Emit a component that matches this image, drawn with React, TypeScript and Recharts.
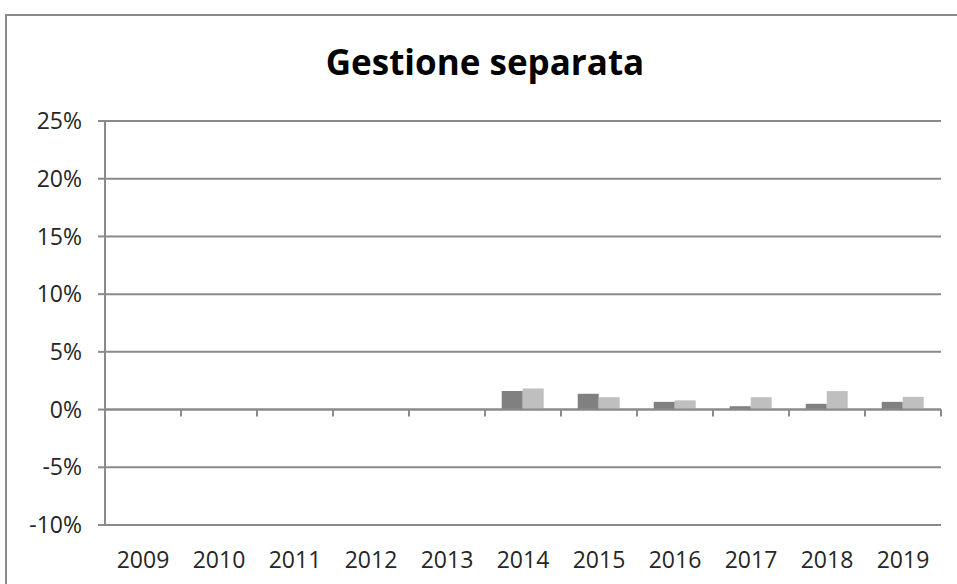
import { Bar, BarChart, CartesianGrid, ReferenceLine, XAxis, YAxis } from "recharts"

// Gestione separata: due serie per anno (grigio scuro / grigio chiaro), valori in %
const YEARS = ["2009", "2010", "2011", "2012", "2013", "2014", "2015", "2016", "2017", "2018", "2019"]
const SERIE_A = [0, 0, 0, 0, 0, 1.6, 1.37, 0.67, 0.29, 0.5, 0.67]
const SERIE_B = [0, 0, 0, 0, 0, 1.83, 1.07, 0.8, 1.07, 1.6, 1.1]
const Y_TICKS = [-10, -5, 0, 5, 10, 15, 20, 25]

const DARK = "#808080"
const LIGHT = "#bfbfbf"
const GRID = "#8a8a8a"
const FONT = "'Open Sans', sans-serif"

const data = YEARS.map((year, i) => ({ year, a: SERIE_A[i], b: SERIE_B[i] }))

// tacche sull'asse dello zero, ai confini tra le categorie
function ZeroTicks(props: { viewBox?: { x: number; y: number; width: number } }) {
  const vb = props.viewBox
  if (!vb) return null
  const step = vb.width / YEARS.length
  return (
    <g>
      {Array.from({ length: YEARS.length + 1 }, (_, i) => (
        <line
          key={i}
          x1={vb.x + i * step}
          x2={vb.x + i * step}
          y1={vb.y}
          y2={vb.y + 7}
          stroke={GRID}
          strokeWidth={2}
        />
      ))}
    </g>
  )
}

export default function App() {
  return (
    <div
      style={{
        position: "absolute",
        left: 0,
        top: 0,
        width: 957,
        height: 584,
        overflow: "hidden",
        background: "#fff",
        fontFamily: FONT,
      }}
    >
      <div
        style={{
          position: "absolute",
          left: 5,
          top: 14,
          width: 1000,
          height: 700,
          border: `2px solid ${GRID}`,
        }}
      />
      <div
        style={{
          position: "absolute",
          left: 0,
          width: 970,
          top: 40,
          textAlign: "center",
          fontSize: 35,
          fontWeight: 700,
          color: "#000",
          lineHeight: "44px",
        }}
      >
        Gestione separata
      </div>
      <BarChart
        width={957}
        height={584}
        data={data}
        margin={{ top: 121, right: 16, bottom: 0, left: 0 }}
        barCategoryGap="22%"
        barGap={0}
        style={{ position: "absolute", left: 0, top: 0 }}
      >
        <CartesianGrid vertical={false} stroke={GRID} strokeWidth={2} />
        <XAxis
          dataKey="year"
          height={59}
          tickLine={false}
          axisLine={false}
          tickMargin={21}
          interval={0}
          tick={{ fontSize: 23, fill: "#262626", fontFamily: FONT }}
        />
        <YAxis
          width={105}
          domain={[-10, 25]}
          ticks={Y_TICKS}
          interval={0}
          tickFormatter={(v: number) => `${v}%`}
          axisLine={{ stroke: GRID, strokeWidth: 2 }}
          tickLine={{ stroke: GRID, strokeWidth: 2 }}
          tickSize={7}
          tickMargin={16}
          tick={{ fontSize: 23, fill: "#262626", fontFamily: FONT }}
        />
        <ReferenceLine y={0} stroke={GRID} strokeWidth={2} label={{ content: ZeroTicks }} />
        <Bar dataKey="a" fill={DARK} isAnimationActive={false} />
        <Bar dataKey="b" fill={LIGHT} isAnimationActive={false} />
      </BarChart>
    </div>
  )
}
